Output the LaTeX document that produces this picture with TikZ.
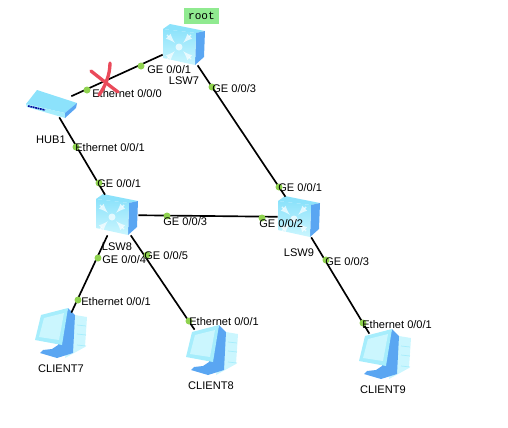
\documentclass[tikz,border=0pt]{standalone}
\usepackage{fontspec}
\setmainfont{Liberation Sans}
\setmonofont{Liberation Mono}
\definecolor{portgreen}{HTML}{8FD24F}
\definecolor{rootgreen}{HTML}{90EA90}
\definecolor{faceblue}{HTML}{A6EDFC}
\definecolor{paleblue}{HTML}{CBF6FE}
\definecolor{topblue}{HTML}{8CE2FB}
\definecolor{sideblue}{HTML}{5AA6F2}
\definecolor{crossred}{HTML}{EA4A5A}
\tikzset{
    lbl/.style={font=\fontsize{6.3}{7}\selectfont,inner sep=0pt},
    portlbl/.style={lbl,anchor=west},
    portdot/.style={circle,fill=portgreen,inner sep=0pt,minimum size=0.14cm},
    link/.style={line width=0.95pt},
    swbox/.style={inner sep=0pt,minimum width=0.84cm,minimum height=0.8cm},
    hubbox/.style={inner sep=0pt,minimum width=0.76cm,minimum height=0.48cm},
    pcbox/.style={inner sep=0pt,minimum width=1.04cm,minimum height=0.96cm},
    switchicon/.pic={
        \fill[topblue] (-21,-16) -- (-14,-21) -- (21,-14) -- (12,-12) -- cycle;
        \fill[sideblue] (12,-12) -- (21,-14) -- (20,12) -- (11,20) -- cycle;
        \shade[top color=topblue,bottom color=paleblue] (-21,-16) -- (12,-12) -- (11,20) -- (-21,13) -- cycle;
        \foreach \a in {45,135,225,315} {
            \draw[white,line width=0.8pt,-latex,opacity=0.7] ([shift={(\a:17)}]-5,2) -- ([shift={(\a:6)}]-5,2);
        }
        \fill[white,opacity=0.7] (-5,2) circle (3.5);
    },
    hubicon/.pic={
        \fill[topblue] (-15,-15) -- (25,-2) -- (13,8) -- (-26,-1) -- cycle;
        \fill[faceblue] (-26,-1) -- (13,8) -- (13,13) -- (-25,2) -- cycle;
        \fill[sideblue] (13,8) -- (25,-2) -- (24,3) -- (13,13) -- cycle;
        \draw[blue!60!black,line width=0.9pt,dash pattern=on 1pt off 0.4pt] (-24,1) -- (-7,5);
    },
    clienticon/.pic={
        \fill[paleblue] (15,-22) -- (27,-20) -- (25,10) -- (5,21) -- cycle;
        \foreach \h in {-12,-3,8} {
            \draw[faceblue,line width=0.4pt] (17,\h) -- (26,\h+1);
        }
        \fill[sideblue] (8,-29) -- (15,-22) -- (13,16) -- (-3,21) -- (-20,16) -- (-17,13) -- (-8,12) -- (-2,8) -- cycle;
        \fill[faceblue] (-19,-22) -- (8,-29) -- (2,8) -- (-25,3) -- cycle;
        \fill[paleblue] (-16,-19) -- (4,-24) -- (-1,3) -- (-21,0) -- cycle;
    }
}
\begin{document}
\begin{tikzpicture}[x=0.02cm,y=-0.02cm]
    \useasboundingbox (0,0) rectangle (508,427);

    \node[swbox] (lswseven) at (184,45) {};
    \node[swbox] (lsweight) at (117,215) {};
    \node[swbox] (lswnine) at (299,217) {};
    \node[hubbox] (hubone) at (52,105) {};
    \node[pcbox] (clientseven) at (60,337) {};
    \node[pcbox] (clienteight) at (211,354) {};
    \node[pcbox] (clientnine) at (384,358) {};

    \pic at (lswseven) {switchicon};
    \pic at (lsweight) {switchicon};
    \pic at (lswnine) {switchicon};
    \pic at (hubone) {hubicon};
    \pic at (clientseven) {clienticon};
    \pic at (clienteight) {clienticon};
    \pic at (clientnine) {clienticon};

    \draw[link] (hubone) -- (lswseven);
    \draw[link] (hubone) -- (lsweight);
    \draw[link] (lswseven) -- (lswnine);
    \draw[link] (lsweight) -- (lswnine);
    \draw[link] (lsweight) -- (clientseven);
    \draw[link] (lsweight) -- (clienteight);
    \draw[link] (lswnine) -- (clientnine);

    \foreach \n/\dx/\dy/\lx/\ly/\txt in {
        a/87/90/92/94/{Ethernet 0/0/0},
        b/141/66/147/70/{GE 0/0/1},
        c/212/87/212/89/{GE 0/0/3},
        d/76/147/75/148/{Ethernet 0/0/1},
        e/99/183/97/184/{GE 0/0/1},
        f/167/216/163/222/{GE 0/0/3},
        g/262/218/259/224/{GE 0/0/2},
        h/279/187/278/188/{GE 0/0/1},
        i/98/258/102/260/{GE 0/0/4},
        j/147/255/144/256/{GE 0/0/5},
        k/326/260/325/262/{GE 0/0/3},
        l/78/300/81/302/{Ethernet 0/0/1},
        m/189/321/189/322/{Ethernet 0/0/1},
        o/363/323/362/325/{Ethernet 0/0/1}} {
        \node[portdot] (dot\n) at (\dx,\dy) {};
        \node[portlbl] (port\n) at (\lx,\ly) {\txt};
    }

    \node[lbl] (lbllswseven) at (184,81) {LSW7};
    \node[lbl] (lbllsweight) at (117,247) {LSW8};
    \node[lbl] (lbllswnine) at (299,253) {LSW9};
    \node[lbl] (lblhubone) at (51,140) {HUB1};
    \node[lbl] (lblclientseven) at (61,369) {CLIENT7};
    \node[lbl] (lblclienteight) at (211,386) {CLIENT8};
    \node[lbl] (lblclientnine) at (383,390) {CLIENT9};

    \node[fill=rootgreen,minimum width=0.7cm,minimum height=0.32cm,inner sep=0pt,font=\ttfamily\fontsize{6.3}{7}\selectfont] (rootlbl) at (201.5,16) {root};

    \draw[crossred,line width=1.9pt,line cap=round] (91,71) .. controls (101,79) and (110,86) .. (118,92);
    \draw[crossred,line width=1.9pt,line cap=round] (110,63) .. controls (110,75) and (105,87) .. (99,95);
\end{tikzpicture}
\end{document}
